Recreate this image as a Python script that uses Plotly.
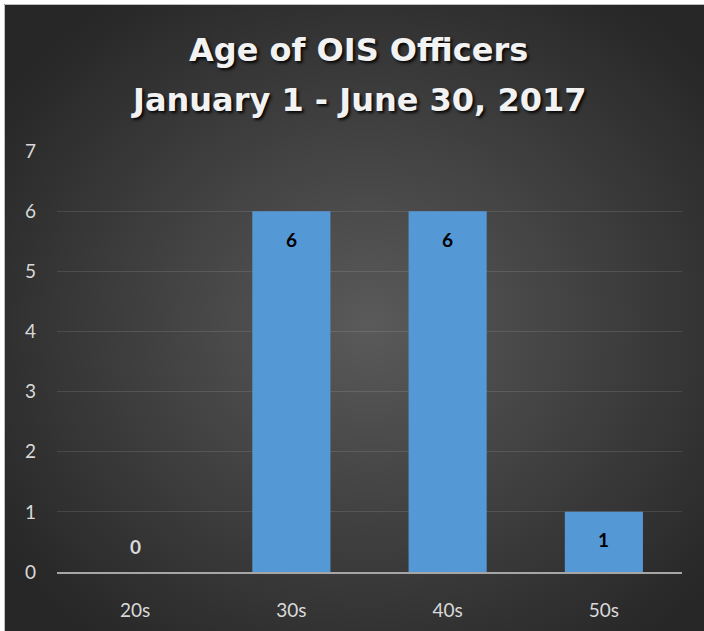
import base64
import plotly.graph_objects as go

categories = ["20s", "30s", "40s", "50s"]
officers = [0, 6, 6, 1]
y_ticks = [0, 1, 2, 3, 4, 5, 6, 7]
title_line1 = "Age of OIS Officers"
title_line2 = "January 1 - June 30, 2017"

FONT = "Lato, 'Open Sans', sans-serif"
TFONT = "'DejaVu Sans', sans-serif"

# radial gradient background as an SVG image
svg = (
    '<svg xmlns="http://www.w3.org/2000/svg" width="720" height="640" '
    'viewBox="0 0 720 640" preserveAspectRatio="none"><defs>'
    '<radialGradient id="g" cx="51%" cy="50%" r="62%">'
    '<stop offset="0" stop-color="#5a5a5a"/>'
    '<stop offset="1" stop-color="#272727"/></radialGradient></defs>'
    '<rect width="720" height="640" fill="url(#g)"/></svg>'
)
svg_uri = "data:image/svg+xml;base64," + base64.b64encode(svg.encode()).decode()

W, H = 704, 631
L, R, T, B = 57, 22, 151, 59
pw, ph = W - L - R, H - T - B


def px(x):
    return (x - L) / pw


def py(y):
    return (H - B - y) / ph


fig = go.Figure()
fig.add_trace(go.Bar(
    x=categories, y=officers,
    marker=dict(color="#5598d6", line=dict(width=0)),
    hoverinfo="skip",
))

annotations = []
for c, v in zip(categories, officers):
    if v > 0:
        annotations.append(dict(x=c, y=v, xref="x", yref="y", text=f"<b>{v}</b>",
                                showarrow=False, yanchor="middle", yshift=-28,
                                font=dict(family=FONT, size=19, color="#000000")))
    else:
        annotations.append(dict(x=c, y=v, xref="x", yref="y", text=f"<b>{v}</b>",
                                showarrow=False, yanchor="middle", yshift=26,
                                font=dict(family=FONT, size=19, color="#d9d9d9")))

shadow = "2px 2px 3px rgba(0,0,0,0.9)"
annotations.append(dict(x=px(358), y=py(50), xref="paper", yref="paper", text=f"<b>{title_line1}</b>",
                        showarrow=False, xanchor="center", yanchor="middle",
                        font=dict(family=TFONT, size=32, color="#f2f2f2", shadow=shadow)))
annotations.append(dict(x=px(358), y=py(100), xref="paper", yref="paper", text=f"<b>{title_line2}</b>",
                        showarrow=False, xanchor="center", yanchor="middle",
                        font=dict(family=TFONT, size=32, color="#f2f2f2", shadow=shadow)))

fig.update_layout(
    width=W, height=H,
    margin=dict(l=L, r=R, t=T, b=B, autoexpand=False),
    paper_bgcolor="#272727",
    plot_bgcolor="rgba(0,0,0,0)",
    bargap=0.5,
    showlegend=False,
    annotations=annotations,
    images=[dict(source=svg_uri, xref="paper", yref="paper",
                 x=px(5), y=py(5), sizex=px(720) - px(5), sizey=py(5) - py(645),
                 xanchor="left", yanchor="top", sizing="stretch", layer="below")],
    shapes=[
        dict(type="rect", xref="paper", yref="paper", x0=px(-5), x1=px(720),
             y0=py(4), y1=py(-5), fillcolor="white", line=dict(width=0), layer="below"),
        dict(type="rect", xref="paper", yref="paper", x0=px(-5), x1=px(4),
             y0=py(-5), y1=py(645), fillcolor="white", line=dict(width=0), layer="below"),
        dict(type="line", xref="paper", yref="paper", x0=px(4.5), x1=px(720),
             y0=py(4.5), y1=py(4.5), line=dict(color="#bfbfbf", width=1)),
        dict(type="line", xref="paper", yref="paper", x0=px(4.5), x1=px(4.5),
             y0=py(4.5), y1=py(645), line=dict(color="#bfbfbf", width=1)),
    ],
    xaxis=dict(
        showline=True, linecolor="#a6a6a6", linewidth=2,
        showgrid=False, zeroline=False,
        tickfont=dict(family=FONT, size=19, color="#d9d9d9"),
        ticks="", ticklabelstandoff=20,
    ),
    yaxis=dict(
        range=[0, 7], tickvals=y_ticks, showline=False,
        showgrid=True, gridcolor="rgba(255,255,255,0.11)", gridwidth=1,
        zeroline=False,
        tickfont=dict(family=FONT, size=19, color="#d9d9d9"),
        ticks="", ticklabelstandoff=20,
    ),
)

fig.write_html("out.html",
               config={"displayModeBar": False},
               post_script="document.body.style.margin='0';document.body.style.overflow='hidden';")
